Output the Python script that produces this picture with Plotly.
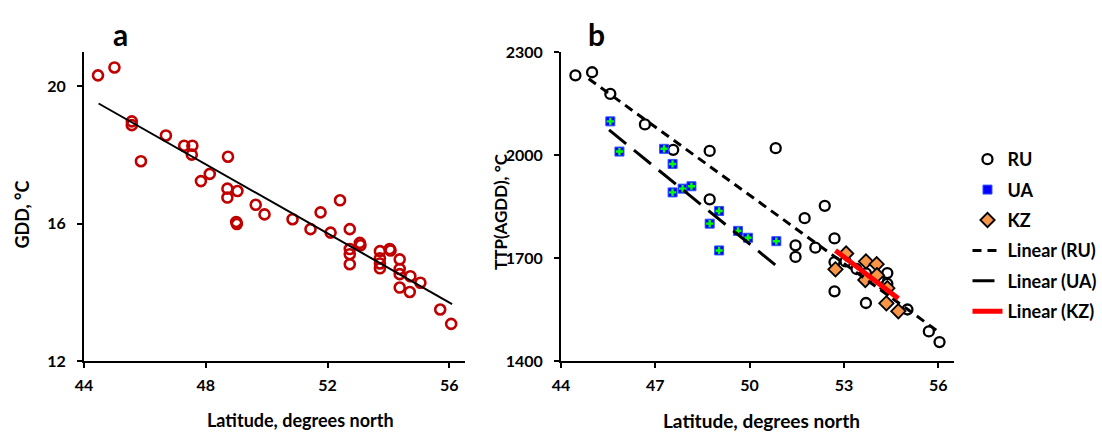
import plotly.graph_objects as go

# ---------------- Panel a: GDD vs latitude ----------------
lat_a = [44.46, 45.00, 45.57, 45.57, 45.87, 46.69, 47.29, 47.56, 47.54, 47.84, 48.13,
         48.73, 48.71, 49.04, 48.71, 49.64, 49.93, 49.00, 49.02, 50.85, 51.77, 52.41,
         51.44, 52.10, 52.73, 53.06, 53.08, 52.73, 52.73, 52.73, 53.72, 53.72, 53.72,
         53.72, 54.04, 54.07, 54.37, 54.37, 54.37, 54.37, 54.72, 54.70, 55.05, 55.70, 56.06]
gdd_a = [20.32, 20.55, 18.98, 18.87, 17.82, 18.57, 18.27, 18.27, 18.01, 17.24, 17.45,
         17.95, 17.02, 16.95, 16.76, 16.55, 16.27, 16.05, 15.99, 16.13, 16.33, 16.68,
         15.84, 15.74, 15.84, 15.44, 15.37, 15.26, 15.11, 14.82, 15.20, 14.99, 14.84,
         14.70, 15.26, 15.22, 14.96, 14.68, 14.53, 14.14, 14.47, 14.01, 14.28, 13.50, 13.08]
trend_a_x = [44.48, 56.09]
trend_a_y = [19.50, 13.66]

# ---------------- Panel b: TTP(AGDD) vs latitude ----------------
lat_ru = [44.46, 44.99, 45.57, 46.67, 47.57, 48.73, 50.83, 48.73, 51.46, 51.46, 51.75,
          52.09, 52.39, 52.70, 52.70, 52.70, 53.05, 53.40, 53.70, 53.70, 54.10, 54.38,
          54.38, 55.02, 55.70, 56.04]
ttp_ru = [2232, 2241, 2178, 2089, 2015, 2012, 2020, 1871, 1737, 1703, 1816,
          1730, 1852, 1757, 1688, 1603, 1690, 1668, 1569, 1655, 1640, 1656,
          1625, 1550, 1486, 1455]
lat_ua = [45.57, 45.86, 47.28, 47.55, 47.55, 47.87, 48.15, 49.03, 48.73, 49.03, 49.63, 49.95, 50.85]
ttp_ua = [2098, 2010, 2018, 1974, 1891, 1902, 1909, 1837, 1800, 1722, 1779, 1759, 1749]
lat_kz = [52.73, 53.07, 53.70, 54.04, 53.68, 54.05, 54.38, 54.35, 54.73]
ttp_kz = [1667, 1713, 1690, 1682, 1636, 1650, 1612, 1568, 1545]

trend_ru_x = [44.88, 56.07]
trend_ru_y = [2222, 1481]
trend_ua_x = [45.53, 50.87]
trend_ua_y = [2073, 1676]
trend_kz_x = [52.73, 54.73]
trend_kz_y = [1722, 1582]

ticks_a_x = [44, 48, 52, 56]
ticks_a_y = [12, 16, 20]
ticks_b_x = [44, 47, 50, 53, 56]
ticks_b_y = [1400, 1700, 2000, 2300]

FONT = "Lato"
W, H = 1102, 433
ML, MR, MT, MB = 83.5, 147.5, 52, 72
PW, PH = W - ML - MR, H - MT - MB


def px_x(p):
    return (p - ML) / PW


def px_y(p):
    return (H - MB - p) / PH


def bold(size):
    return dict(family=FONT, size=size, color="black", weight="bold")


def btext(vals):
    return ["<b>%s</b>" % v for v in vals]


fig = go.Figure()

# panel a
fig.add_trace(go.Scatter(x=lat_a, y=gdd_a, mode="markers", showlegend=False,
                         marker=dict(symbol="circle-open", size=10, color="#C00000",
                                     line=dict(width=2.6, color="#C00000")),
                         xaxis="x", yaxis="y"))
fig.add_trace(go.Scatter(x=trend_a_x, y=trend_a_y, mode="lines", showlegend=False,
                         line=dict(color="black", width=2), xaxis="x", yaxis="y"))

# panel b markers
fig.add_trace(go.Scatter(x=lat_ru, y=ttp_ru, mode="markers", name="RU", legendgroup="ru",
                         marker=dict(symbol="circle-open", size=10, color="black",
                                     line=dict(width=2.3, color="black")),
                         xaxis="x2", yaxis="y2"))
fig.add_trace(go.Scatter(x=lat_ua, y=ttp_ua, mode="markers", name="UA", legendgroup="ua",
                         marker=dict(symbol="square", size=9, color="#0000FF",
                                     line=dict(width=1, color="#3355FF")),
                         xaxis="x2", yaxis="y2"))
fig.add_trace(go.Scatter(x=lat_ua, y=ttp_ua, mode="markers", showlegend=False, legendgroup="ua",
                         marker=dict(symbol="cross", size=6, color="#00FF00",
                                     line=dict(width=0)),
                         xaxis="x2", yaxis="y2"))
fig.add_trace(go.Scatter(x=lat_kz, y=ttp_kz, mode="markers", name="KZ", legendgroup="kz",
                         marker=dict(symbol="diamond", size=11, color="#F79646",
                                     line=dict(width=1.8, color="black")),
                         xaxis="x2", yaxis="y2"))
# trend lines
fig.add_trace(go.Scatter(x=trend_ru_x, y=trend_ru_y, mode="lines", name="Linear (RU)",
                         legendgroup="lru", line=dict(color="black", width=3, dash="9px,6px"),
                         xaxis="x2", yaxis="y2"))
fig.add_trace(go.Scatter(x=trend_ua_x, y=trend_ua_y, mode="lines", name="Linear (UA)",
                         legendgroup="lua", line=dict(color="black", width=3, dash="22px,10px"),
                         xaxis="x2", yaxis="y2"))
fig.add_trace(go.Scatter(x=trend_kz_x, y=trend_kz_y, mode="lines", name="Linear (KZ)",
                         legendgroup="lkz", line=dict(color="#FF0000", width=5),
                         xaxis="x2", yaxis="y2"))

axis_common = dict(showline=True, linewidth=2, linecolor="black", showgrid=False,
                   zeroline=False, ticks="outside", ticklen=5, tickwidth=2, tickcolor="black",
                   tickfont=bold(16), mirror=False, automargin=False)

fig.update_layout(
    template="none",
    width=W, height=H,
    margin=dict(l=ML, r=MR, t=MT, b=MB, autoexpand=False),
    paper_bgcolor="white", plot_bgcolor="white",
    xaxis=dict(domain=[px_x(83.5), px_x(464.5)], range=[44, 56.5], tickvals=ticks_a_x,
               ticktext=btext(ticks_a_x), anchor="y", ticklabelstandoff=4, **axis_common),
    yaxis=dict(domain=[0, 1], range=[12, 21], tickvals=ticks_a_y, ticktext=btext(ticks_a_y),
               anchor="x", ticklabelstandoff=8, **axis_common),
    xaxis2=dict(domain=[px_x(561), px_x(954.5)], range=[44, 56.5], tickvals=ticks_b_x,
                ticktext=btext(ticks_b_x), anchor="y2", ticklabelstandoff=4, **axis_common),
    yaxis2=dict(domain=[0, 1], range=[1400, 2300], tickvals=ticks_b_y,
                ticktext=btext(ticks_b_y), anchor="x2", ticklabelstandoff=8, **axis_common),
    legend=dict(x=px_x(968), y=px_y(141), xanchor="left", yanchor="top",
                traceorder="grouped", tracegroupgap=4, itemwidth=30,
                font=bold(18), bgcolor="rgba(0,0,0,0)"),
    annotations=[
        dict(text="<b>a</b>", x=px_x(120), y=px_y(34), xref="paper", yref="paper",
             xanchor="center", yanchor="middle", showarrow=False, font=bold(30)),
        dict(text="<b>b</b>", x=px_x(597), y=px_y(34), xref="paper", yref="paper",
             xanchor="center", yanchor="middle", showarrow=False, font=bold(30)),
        dict(text="<b>Latitude, degrees north</b>", x=px_x(300), y=px_y(420), xref="paper",
             yref="paper", xanchor="center", yanchor="middle", showarrow=False, font=bold(18)),
        dict(text="<b>Latitude, degrees north</b>", x=px_x(762), y=px_y(420), xref="paper",
             yref="paper", xanchor="center", yanchor="middle", showarrow=False, font=bold(19)),
        dict(text="<b>GDD, °C</b>", x=px_x(21), y=px_y(215), xref="paper", yref="paper",
             xanchor="center", yanchor="middle", textangle=-90, showarrow=False, font=bold(18)),
        dict(text="<b>TTP(AGDD), °C</b>", x=px_x(500), y=px_y(212), xref="paper", yref="paper",
             xanchor="center", yanchor="middle", textangle=-90, showarrow=False, font=bold(17)),
    ],
)

fig.write_html("out.html")
